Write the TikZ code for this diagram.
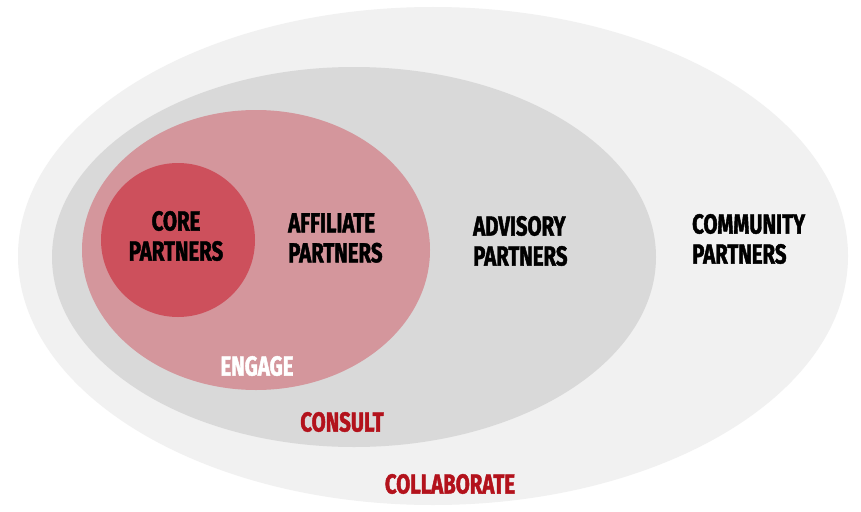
\documentclass[tikz,border=0pt]{standalone}
\usepackage{fontspec}
\newfontfamily\labelfont[FakeStretch=0.74, FakeBold=1.6]{Fira Sans}
\usetikzlibrary{positioning}
\definecolor{collabgray}{HTML}{F1F1F1}
\definecolor{consultgray}{HTML}{D9D9D9}
\definecolor{engagepink}{HTML}{D4969C}
\definecolor{corered}{HTML}{CD505C}
\definecolor{labelred}{HTML}{B3121C}

\begin{document}
\begin{tikzpicture}[%
x=1pt, y=-1pt,
ring/.style={font=\labelfont\bfseries\fontsize{27.5}{30}\selectfont, inner sep=0pt},
partner/.style={ring, align=left, text=black},
level/.style={ring, text=labelred}
]
\useasboundingbox[fill=white] (0,0) rectangle (861,511);

% nested rings
\fill[collabgray] (433,256) ellipse [x radius=415, y radius=249];
\fill[consultgray] (354,257) ellipse [x radius=302, y radius=190];
\fill[engagepink] (256,250) ellipse [x radius=174, y radius=140];
\fill[corered] (178,240) ellipse [x radius=77, y radius=77];

% partner labels
\node[partner, align=center] (core) at (176,236) {CORE\\PARTNERS};
\node[partner, anchor=west] (affiliate) at (288,238) {AFFILIATE\\PARTNERS};
\node[partner, anchor=west] (advisory) at (473,241) {ADVISORY\\PARTNERS};
\node[partner, anchor=west] (community) at (692,239) {COMMUNITY\\PARTNERS};

% level labels
\node[level, text=white] (engage) at (257,366) {ENGAGE};
\node[level] (consult) at (342,422) {CONSULT};
\node[level] (collaborate) at (450,484) {COLLABORATE};

\end{tikzpicture}
\end{document}
